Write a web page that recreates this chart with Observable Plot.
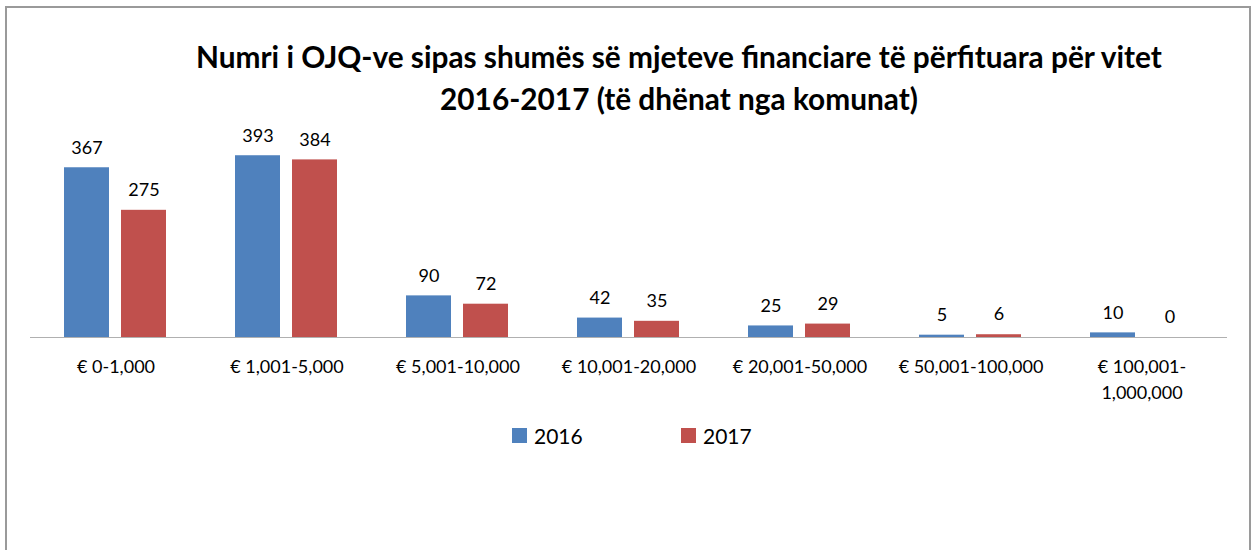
<!DOCTYPE html>
<html>
<head>
<meta charset="utf-8">
<script src="https://cdn.jsdelivr.net/npm/d3@7"></script>
<script src="https://cdn.jsdelivr.net/npm/@observablehq/plot@0.6"></script>
<style>
  html, body { margin: 0; padding: 0; background: #fff; }
  body { width: 1252px; height: 550px; position: relative; overflow: hidden; font-family: Lato, "Open Sans", sans-serif; }
  #frame { position: absolute; left: 5px; top: 6px; width: 1246px; height: 600px; border: 2px solid #9a9a9a; box-sizing: border-box; }
  #title { position: absolute; left: 129px; width: 1100px; top: 36px; text-align: center; font-weight: bold; font-size: 29.8px; line-height: 42px; color: #000; }
  #chart { position: absolute; left: 0; top: 120px; }
  #legend { position: absolute; top: 420px; left: 0; width: 1252px; height: 30px; font-size: 21px; color: #000; }
  .item { position: absolute; top: 0; height: 30px; display: flex; align-items: center; }
  .sw { width: 15px; height: 15px; margin-right: 7px; }
</style>
</head>
<body>
<div id="frame"></div>
<div id="title">Numri i OJQ-ve sipas shumës së mjeteve financiare të përfituara për vitet<br>2016-2017 (të dhënat nga komunat)</div>
<div id="chart"></div>
<div id="legend"></div>
<script>
const categories = ["€ 0-1,000", "€ 1,001-5,000", "€ 5,001-10,000", "€ 10,001-20,000", "€ 20,001-50,000", "€ 50,001-100,000", "€ 100,001-1,000,000"];
const tickLabels = ["€ 0-1,000", "€ 1,001-5,000", "€ 5,001-10,000", "€ 10,001-20,000", "€ 20,001-50,000", "€ 50,001-100,000", "€ 100,001-\n1,000,000"];
const years = ["2016", "2017"];
const values2016 = [367, 393, 90, 42, 25, 5, 10];
const values2017 = [275, 384, 72, 35, 29, 6, 0];
const colors = ["#4F81BD", "#C0504D"];

const data = [];
categories.forEach((c, i) => {
  data.push({cat: c, year: "2016", value: values2016[i]});
  data.push({cat: c, year: "2017", value: values2017[i]});
});

const chart = Plot.plot({
  width: 1252,
  height: 290,
  marginLeft: 28,
  marginRight: 23,
  marginTop: 32,
  marginBottom: 73,
  style: {fontFamily: "Lato, 'Open Sans', sans-serif", fontSize: "18px", background: "transparent", color: "#000"},
  fx: {domain: categories, padding: 0, label: null},
  x: {domain: years, paddingInner: 0.207, paddingOuter: 0.583, axis: null},
  y: {domain: [0, 400], axis: null},
  color: {domain: years, range: colors},
  marks: [
    Plot.barY(data, {fx: "cat", x: "year", y: "value", fill: "year"}),
    Plot.ruleY([0], {stroke: "#b0b0b0", strokeWidth: 1}),
    Plot.text(data, {fx: "cat", x: "year", y: "value", text: d => String(d.value), dy: -20, fontSize: 18, fill: "#000"}),
    Plot.axisFx({anchor: "bottom", tickSize: 0, tickPadding: 18, label: null, fontSize: 18, lineHeight: 1.4, fill: "#000",
      tickFormat: d => tickLabels[categories.indexOf(d)]})
  ]
});
document.getElementById("chart").appendChild(chart);

const legend = document.getElementById("legend");
const legendLeft = [512, 681];
years.forEach((y, i) => {
  const item = document.createElement("div");
  item.className = "item";
  item.style.left = legendLeft[i] + "px";
  const sw = document.createElement("span");
  sw.className = "sw";
  sw.style.background = colors[i];
  const t = document.createElement("span");
  t.textContent = y;
  item.appendChild(sw);
  item.appendChild(t);
  legend.appendChild(item);
});
</script>
</body>
</html>
